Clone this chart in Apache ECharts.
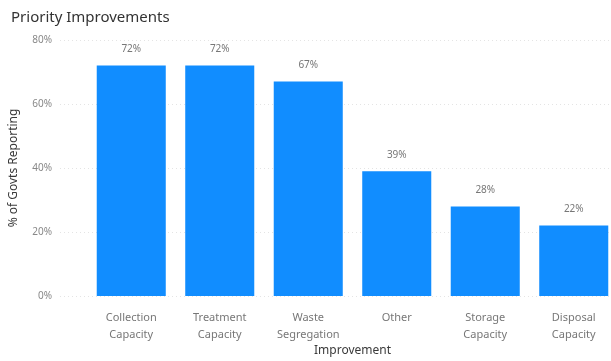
<!DOCTYPE html>
<html>
<head>
<meta charset="utf-8">
<script src="https://cdn.jsdelivr.net/npm/echarts@6/dist/echarts.min.js"></script>
<style>
  html, body { margin: 0; padding: 0; background: #fff; }
  #chart { width: 611px; height: 361px; }
</style>
</head>
<body>
<div id="chart"></div>
<script>
// Share of governments reporting each priority improvement
const categories = ['Collection\nCapacity', 'Treatment\nCapacity', 'Waste\nSegregation', 'Other', 'Storage\nCapacity', 'Disposal\nCapacity'];
const values = [72, 72, 67, 39, 28, 22];
const yTicks = [0, 20, 40, 60, 80];

const FONT = '"Noto Sans", "Open Sans", sans-serif';
const yMin = yTicks[0];
const yMax = yTicks[yTicks.length - 1];
const yStep = yTicks[1] - yTicks[0];

const chart = echarts.init(document.getElementById('chart'), null, { renderer: 'canvas' });

chart.setOption({
  backgroundColor: '#ffffff',
  animation: false,
  textStyle: { fontFamily: FONT },
  title: {
    text: 'Priority Improvements',
    left: 6,
    top: 5,
    textStyle: { fontFamily: FONT, fontSize: 15, fontWeight: 'normal', color: '#333333' }
  },
  grid: [
    // background grid: value axis labels and dotted gridlines
    { left: 60, right: 0, top: 40, bottom: 65, containLabel: false, outerBoundsMode: 'none' },
    // bars
    { left: 87, right: -7, top: 40, bottom: 65, containLabel: false, outerBoundsMode: 'none' }
  ],
  xAxis: [
    { type: 'category', gridIndex: 0, data: categories, show: false },
    {
      type: 'category',
      gridIndex: 1,
      data: categories,
      name: 'Improvement',
      nameLocation: 'middle',
      nameGap: 49,
      nameMoveOverlap: false,
      nameTextStyle: { fontFamily: FONT, fontSize: 12, color: '#3a3a3a' },
      axisLine: { show: false },
      axisTick: { show: false },
      axisLabel: { fontFamily: FONT, fontSize: 11, color: '#777777', lineHeight: 17, margin: 13, interval: 0 }
    }
  ],
  yAxis: [
    {
      type: 'value',
      gridIndex: 0,
      min: yMin,
      max: yMax,
      interval: yStep,
      name: '% of Govts Reporting',
      nameLocation: 'middle',
      nameGap: 40,
      nameTextStyle: { fontFamily: FONT, fontSize: 12, color: '#3a3a3a' },
      axisLine: { show: false },
      axisTick: { show: false },
      axisLabel: { fontFamily: FONT, fontSize: 10, color: '#888888', margin: 8, formatter: v => v + '%' },
      splitLine: { show: true, lineStyle: { color: '#e4e4e4', type: [1, 3], width: 1 } }
    },
    {
      type: 'value',
      gridIndex: 1,
      min: yMin,
      max: yMax,
      interval: yStep,
      show: false,
      splitLine: { show: false }
    }
  ],
  series: [
    {
      type: 'bar',
      xAxisIndex: 1,
      yAxisIndex: 1,
      data: values,
      barCategoryGap: '22%',
      itemStyle: { color: '#118DFF' },
      label: {
        show: true,
        position: 'top',
        distance: 11,
        fontFamily: FONT,
        fontSize: 10,
        color: '#777777',
        formatter: p => p.value + '%'
      }
    }
  ]
});
</script>
</body>
</html>
